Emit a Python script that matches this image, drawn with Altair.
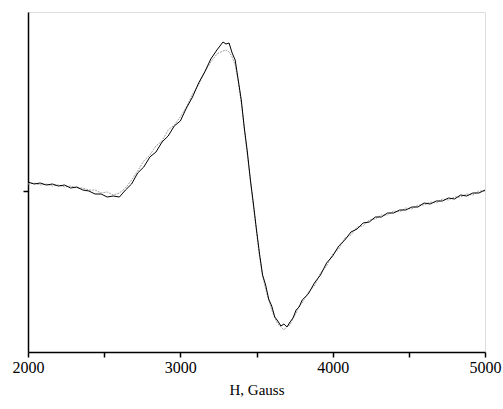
import altair as alt
import pandas as pd

field_gauss = [2000, 2040, 2080, 2120, 2160, 2200, 2240, 2280, 2320, 2360, 2400, 2440, 2480,
               2520, 2560, 2600, 2640, 2680, 2720, 2760, 2800, 2840, 2880, 2920, 2960,
               3000, 3040, 3080, 3120, 3160, 3200, 3240, 3280, 3300, 3320, 3340, 3360,
               3380, 3400, 3420, 3440, 3460, 3480, 3500, 3520, 3540, 3560, 3580, 3600,
               3620, 3640, 3660, 3680, 3700, 3720, 3740, 3760, 3780, 3800, 3840, 3880,
               3920, 3960, 4000, 4040, 4080, 4120, 4160, 4200, 4240, 4280, 4320, 4360,
               4400, 4440, 4480, 4520, 4560, 4600, 4640, 4680, 4720, 4760, 4800, 4840,
               4880, 4920, 4960, 5000]
signal_black = [9, 7, 8, 6, 7, 5, 6, 3, 4, 1, 0, -3, -3,
                -6, -5, -6, 1, 7, 18, 24, 34, 39, 49, 55, 65,
                70, 83, 94, 108, 119, 132, 141, 149, 147, 148, 138, 131,
                111, 91, 63, 39, 11, -13, -39, -63, -84, -94, -108, -115,
                -126, -130, -135, -133, -136, -131, -127, -119, -116, -109, -103, -92,
                -84, -72, -65, -55, -49, -41, -38, -32, -31, -26, -26, -22,
                -22, -19, -19, -16, -16, -12, -13, -10, -10, -7, -8, -4,
                -5, -2, -2, 1]
signal_gray = [7, 8, 6, 7, 5, 6, 4, 5, 3, 3, 1, 1, -2,
               -1, -4, -2, 3, 11, 20, 30, 36, 45, 50, 61, 66,
               74, 84, 97, 106, 119, 129, 137, 140, 141, 139, 134, 126,
               110, 88, 62, 36, 10, -16, -40, -66, -85, -98, -109, -119,
               -127, -133, -136, -139, -135, -134, -127, -122, -115, -112, -101, -95,
               -82, -75, -63, -58, -47, -44, -36, -35, -29, -28, -24, -24,
               -20, -21, -17, -18, -14, -14, -11, -12, -8, -9, -6, -6,
               -3, -4, 0, 0]

n = len(field_gauss)
df = pd.DataFrame({
    "H": field_gauss * 2,
    "signal": signal_gray + signal_black,
    "series": ["gray"] * n + ["black"] * n,
    "order": list(range(n)) * 2,
})

x = alt.X("H:Q", title="H, Gauss",
          scale=alt.Scale(domain=[2000, 5000], nice=False, zero=False),
          axis=alt.Axis(values=[2000, 2500, 3000, 3500, 4000, 4500, 5000],
                        labelExpr="datum.value % 1000 == 0 ? datum.label : ''",
                        format="d", grid=False, labelFlush=False, labelOverlap=False,
                        domainColor="black", domainWidth=1.5,
                        tickColor="black", tickSize=5, tickWidth=1.5,
                        labelFont="Liberation Serif", labelFontSize=16, labelColor="black",
                        labelPadding=2,
                        titleFont="Liberation Serif", titleFontSize=15, titleFontWeight="normal",
                        titleColor="black", titlePadding=7))
y = alt.Y("signal:Q", title=None,
          scale=alt.Scale(domain=[-161, 179], nice=False, zero=False),
          axis=alt.Axis(values=[0], labels=False, grid=False, domainColor="black",
                        domainWidth=1.5, tickColor="black", tickSize=5, tickWidth=1.5))

gray = alt.Chart(df).transform_filter(alt.datum.series == "gray").mark_line(
    color="#a0a0a0", strokeWidth=1, strokeDash=[2, 1]
).encode(x=x, y=y, order="order:Q")
black = alt.Chart(df).transform_filter(alt.datum.series == "black").mark_line(
    color="black", strokeWidth=1
).encode(x=x, y=y, order="order:Q")

chart = alt.layer(gray, black).properties(
    width=457, height=340,
    autosize=alt.AutoSizeParams(type="none"),
    padding={"left": 28, "top": 12, "right": 18, "bottom": 57},
).configure_view(stroke=None).configure(background="white")

chart.save("out.html", embed_options={"renderer": "svg", "actions": False})
